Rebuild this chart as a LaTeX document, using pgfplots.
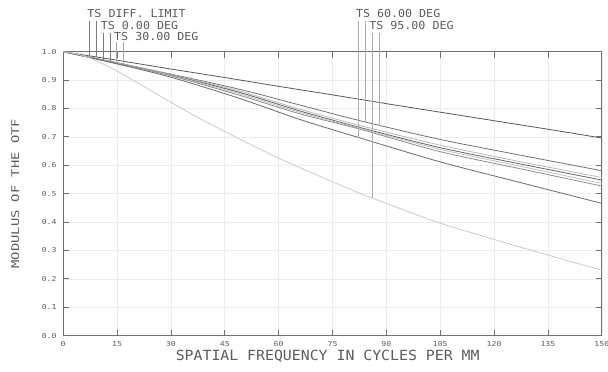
\documentclass[border=0pt]{standalone}
\usepackage{fontspec}
\setmainfont{DejaVu Sans Mono}
\newfontfamily\tickf[FakeStretch=1.2]{DejaVu Sans Mono}
\newfontfamily\labf[FakeStretch=1.06]{DejaVu Sans Mono}
\newfontfamily\ylabf[FakeStretch=1.3]{DejaVu Sans Mono}
\usepackage{pgfplots}
\pgfplotsset{compat=1.18}
\definecolor{axc}{HTML}{707070}
\definecolor{gridc}{HTML}{ECECEC}
\definecolor{txt}{HTML}{5C5C5C}
\definecolor{gA}{HTML}{727272}
\definecolor{gB}{HTML}{B8B8B8}
\definecolor{gC}{HTML}{626262}
\definecolor{gD}{HTML}{C2C2C2}
\definecolor{gE}{HTML}{8E8E8E}
\definecolor{gF}{HTML}{6A6A6A}
\definecolor{gDiff}{HTML}{585858}
\definecolor{gBot}{HTML}{CACACA}
\definecolor{mk}{HTML}{ADADAD}
\definecolor{mkd}{HTML}{7A7A7A}
\begin{document}
\begin{tikzpicture}[x=1pt,y=1pt]
\path[use as bounding box] (0,0) rectangle (608,372);
\begin{axis}[
  at={(63.2pt,36.3pt)}, anchor=south west,
  scale only axis, width=538.6pt, height=284pt,
  xmin=0, xmax=150, ymin=0, ymax=1,
  xtick={0,15,30,45,60,75,90,105,120,135,150},
  xticklabels={0,15,30,45,60,75,90,105,120,135,150},
  ytick={0,0.1,0.2,0.3,0.4,0.5,0.6,0.7,0.8,0.9,1.0},
  yticklabels={0.0,0.1,0.2,0.3,0.4,0.5,0.6,0.7,0.8,0.9,1.0},
  tick align=inside, tick pos=both, major tick length=6pt,
  major tick style={draw=axc, line width=0.8pt},
  grid=major, major grid style={draw=gridc, line width=0.6pt},
  axis line style={draw=axc, line width=1pt},
  clip=false,
  /pgf/number format/assume math mode=true,
  xticklabel style={font=\tickf\fontsize{6.8}{7}\selectfont, text=txt, anchor=north, inner sep=0pt, yshift=-6pt},
  yticklabel style={font=\tickf\fontsize{6.8}{7}\selectfont, text=txt, anchor=east, inner sep=0pt, xshift=-6.5pt},
  xlabel={SPATIAL FREQUENCY IN CYCLES PER MM},
  ylabel={MODULUS OF THE OTF},
  xlabel style={font=\labf\fontsize{14}{16}\selectfont, text=txt, at={(axis description cs:0.491,-0.0725)}, anchor=center, inner sep=0pt},
  ylabel style={font=\ylabf\fontsize{10.6}{12}\selectfont, text=txt, at={(axis description cs:-0.0889,0.5)}, anchor=center, rotate=0, inner sep=0pt},
]
% diffraction limit
\addplot[gDiff, line width=0.8pt] coordinates {(0,1) (15,0.970) (30,0.939) (45,0.909) (60,0.878) (75,0.848) (90,0.817) (105,0.787) (120,0.757) (135,0.727) (150,0.696)};
% cluster
\addplot[gA, line width=0.8pt, smooth] coordinates {(0,1) (15,0.961) (30,0.921) (49,0.868) (66,0.812) (83,0.756) (105,0.691) (128,0.634) (150,0.581)};
\addplot[gB, line width=0.8pt, smooth] coordinates {(0,1) (15,0.961) (30,0.920) (49,0.862) (66,0.797) (83,0.739) (105,0.671) (128,0.611) (150,0.557)};
\addplot[gC, line width=0.8pt, smooth] coordinates {(0,1) (15,0.960) (30,0.918) (49,0.857) (66,0.791) (83,0.732) (105,0.662) (128,0.603) (150,0.548)};
\addplot[gD, line width=0.8pt, smooth] coordinates {(0,1) (15,0.960) (30,0.917) (49,0.852) (66,0.786) (83,0.729) (105,0.656) (128,0.595) (150,0.536)};
\addplot[gE, line width=0.8pt, smooth] coordinates {(0,1) (15,0.959) (30,0.915) (49,0.847) (66,0.781) (83,0.726) (105,0.648) (128,0.586) (150,0.527)};
\addplot[gF, line width=0.8pt, smooth] coordinates {(0,1) (15,0.957) (30,0.910) (49,0.836) (66,0.761) (83,0.695) (105,0.612) (128,0.537) (150,0.466)};
% lowest curve
\addplot[gBot, line width=0.8pt, smooth] coordinates {(0,1.000) (4,0.991) (8.4,0.973) (15,0.932) (22.5,0.877) (30,0.822) (37.5,0.768) (45,0.719) (52.5,0.671) (60,0.625) (67.5,0.583) (75,0.542) (82.5,0.502) (90,0.466) (97.5,0.430) (105,0.396) (112.5,0.367) (120,0.339) (127.5,0.311) (135,0.284) (142.5,0.257) (150,0.231)};
% marker lines
\addplot[mkd, line width=0.7pt] coordinates {(7.27,1.108) (7.27,0.985)};
\addplot[mkd, line width=0.7pt] coordinates {(9.13,1.108) (9.13,0.981)};
\addplot[mkd, line width=0.7pt] coordinates {(11.17,1.067) (11.17,0.970)};
\addplot[mkd, line width=0.7pt] coordinates {(13.03,1.067) (13.03,0.965)};
\addplot[mk, line width=0.7pt] coordinates {(14.9,1.033) (14.9,0.960)};
\addplot[mk, line width=0.7pt] coordinates {(16.74,1.033) (16.74,0.955)};
\addplot[mk, line width=0.7pt] coordinates {(82.3,1.108) (82.3,0.697)};
\addplot[mk, line width=0.7pt] coordinates {(84.2,1.108) (84.2,0.751)};
\addplot[mk, line width=0.7pt] coordinates {(86.1,1.067) (86.1,0.485)};
\addplot[mk, line width=0.7pt] coordinates {(88.0,1.067) (88.0,0.738)};
% labels
\node[anchor=base west, inner sep=0pt, text=txt, font=\labf\fontsize{11}{12}\selectfont] at (axis cs:6.7,1.121) {TS DIFF. LIMIT};
\node[anchor=base west, inner sep=0pt, text=txt, font=\labf\fontsize{11}{12}\selectfont] at (axis cs:10.44,1.079) {TS 0.00 DEG};
\node[anchor=base west, inner sep=0pt, text=txt, font=\labf\fontsize{11}{12}\selectfont] at (axis cs:14.15,1.039) {TS 30.00 DEG};
\node[anchor=base west, inner sep=0pt, text=txt, font=\labf\fontsize{11}{12}\selectfont] at (axis cs:81.5,1.121) {TS 60.00 DEG};
\node[anchor=base west, inner sep=0pt, text=txt, font=\labf\fontsize{11}{12}\selectfont] at (axis cs:85.2,1.079) {TS 95.00 DEG};
\end{axis}
\end{tikzpicture}
\end{document}
